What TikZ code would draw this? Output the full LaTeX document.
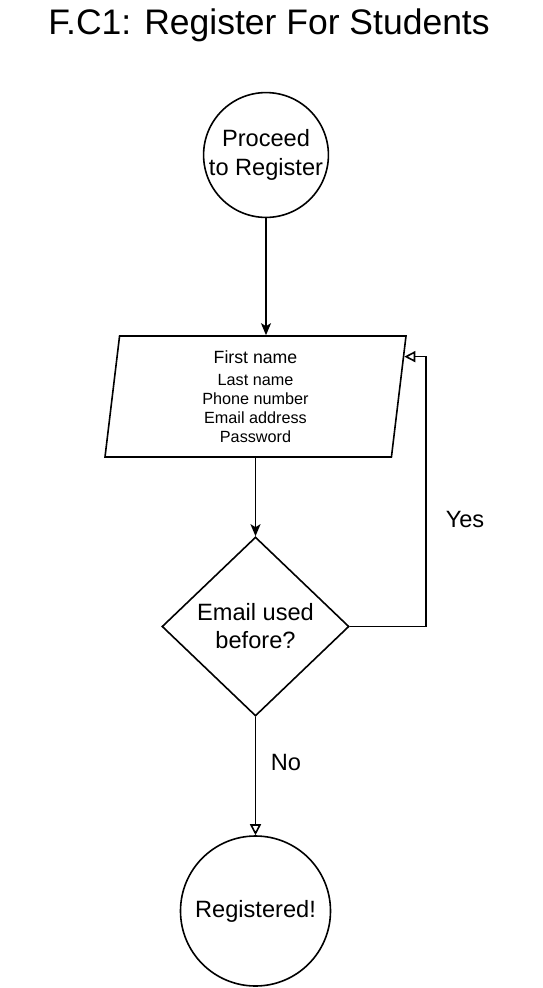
\documentclass[tikz,border=0pt]{standalone}
\usepackage{fontspec}
\setmainfont{Liberation Sans}
\usetikzlibrary{positioning,shapes,arrows.meta}
\tikzstyle{terminal} = [circle, draw=black, line width=1.6pt, text centered, align=center, inner sep=0pt, font=\fontsize{23.6}{29}\selectfont]
\tikzstyle{io} = [trapezium, trapezium left angle=81, trapezium right angle=99, trapezium stretches body=true, draw=black, line width=1.6pt, minimum width=301pt, minimum height=121pt, inner sep=0pt, align=center, font=\fontsize{16.2}{19}\selectfont]
\tikzstyle{boxif} = [diamond, draw=black, line width=1.6pt, minimum width=187pt, minimum height=179pt, inner sep=0pt, align=center, font=\fontsize{23.6}{28}\selectfont]
\tikzstyle{answer} = [font=\fontsize{23.6}{28}\selectfont]
\tikzstyle{connect} = [line width=1.6pt, -{Stealth[length=12pt,width=10pt,inset=3pt]}]
\tikzstyle{connectopen} = [line width=1.6pt, -{Triangle[open,length=11pt,width=11pt]}]

\begin{document}
\begin{tikzpicture}[x=1pt, y=1pt]
			\useasboundingbox (0,0) rectangle (542,-988);
			\node (title) [anchor=base, font=\fontsize{35.5}{40}\selectfont] at (269,-34) {F.C1: Register For Students};
			\node (start) [terminal, minimum size=120pt] at (266,-155) {Proceed\\to Register};
			\node (input) [io, below of=start, node distance=241.5pt, xshift=-10.5pt] {{\fontsize{17.7}{19}\selectfont First name}\\[3pt]Last name\\Phone number\\Email address\\Password};
			\node (used) [boxif, below of=input, node distance=230pt] {Email used\\before?};
			\node (done) [terminal, minimum size=150pt, below of=used, node distance=284.5pt] {Registered!};
			\node (yes) [answer] at (465,-519) {Yes};
			\node (no) [answer] at (286,-762) {No};

			\draw [connect] (start.south) -- (start.south |- input.north);
			\draw [connect] (used.north |- input.south) -- (used.north);
			\draw [connectopen] (used.east) -- ++(76,0) |- (input.15);
			\draw [connectopen] (used.south) -- (done.north);

			\end{tikzpicture}
\end{document}
